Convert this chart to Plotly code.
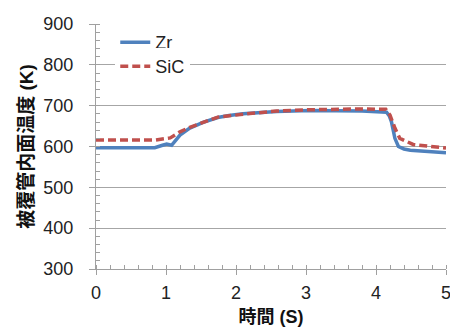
import plotly.graph_objects as go

zr_x = [0, 0.4, 0.84, 0.95, 1.01, 1.08, 1.2, 1.34, 1.53, 1.74, 1.9, 2.1, 2.58, 3.06, 3.46, 3.8, 4.15, 4.19, 4.22, 4.27, 4.32, 4.4, 4.49, 4.75, 5.0]
zr_y = [597, 596, 597, 603, 606, 603, 628, 645, 659, 671, 676, 680, 686, 688, 688, 687, 684, 675, 661, 620, 600, 594, 591, 588, 585]

sic_x = [0, 0.5, 0.85, 1.06, 1.2, 1.34, 1.53, 1.74, 2.1, 2.58, 3.06, 3.46, 3.8, 4.14, 4.2, 4.27, 4.34, 4.53, 4.77, 5.0]
sic_y = [616, 615, 616, 621, 636, 647, 658, 672, 679, 687, 690, 692, 692, 691, 677, 645, 620, 605, 600, 596]

x_ticks = [0, 1, 2, 3, 4, 5]
y_ticks = [300, 400, 500, 600, 700, 800, 900]

FONT = "Liberation Sans, Arial, Noto Sans CJK JP, sans-serif"

fig = go.Figure()
fig.add_trace(go.Scatter(x=zr_x, y=zr_y, mode="lines", name="Zr", legend="legend",
                         line=dict(color="#4F81BD", width=3.5)))
fig.add_trace(go.Scatter(x=sic_x, y=sic_y, mode="lines", name="SiC", legend="legend2",
                         line=dict(color="#C0504D", width=3.5, dash="8px,4px")))

leg_common = dict(xanchor="left", yanchor="top", bgcolor="white", borderwidth=0,
                  font=dict(size=18, color="#222222"), itemwidth=30)

fig.update_layout(
    width=450, height=329,
    margin=dict(l=96, r=4, t=24, b=60),
    paper_bgcolor="white", plot_bgcolor="white",
    font=dict(family=FONT, size=18, color="#222222"),
    showlegend=True,
    legend=dict(x=0.055, y=1.0, **leg_common),
    legend2=dict(x=0.055, y=0.902, **leg_common),
    xaxis=dict(
        range=[0, 5], tickvals=x_ticks, ticktext=[str(v) for v in x_ticks],
        showgrid=False, zeroline=False, automargin=False,
        showline=True, linecolor="#a0a0a0", linewidth=1,
        ticks="outside", ticklen=5, tickcolor="#a0a0a0",
        minor=dict(dtick=0.2, ticks="inside", ticklen=4, tickcolor="#a0a0a0", showgrid=False),
        tickfont=dict(size=18),
        ticklabelstandoff=2, ticklabeloverflow="allow",
        title=dict(text="<b>時間 (S)</b>", font=dict(size=18, color="#111111"), standoff=8),
    ),
    yaxis=dict(
        range=[300, 900], tickvals=y_ticks, ticktext=[str(v) for v in y_ticks],
        showgrid=True, gridcolor="#a6a6a6", gridwidth=1, zeroline=False, automargin=False,
        showline=True, linecolor="#a0a0a0", linewidth=1,
        ticks="outside", ticklen=6, tickcolor="#a0a0a0",
        minor=dict(dtick=20, ticks="inside", ticklen=4, tickcolor="#a0a0a0", showgrid=False),
        tickfont=dict(size=18),
        ticklabelstandoff=12, ticklabeloverflow="allow",
        title=dict(text="<b>被覆管内面温度 (K)</b>", font=dict(size=19, color="#111111"), standoff=4),
    ),
)

fig.write_html("out.html", config={"displayModeBar": False},
               post_script="document.body.style.margin='0';document.body.style.padding='0';")
